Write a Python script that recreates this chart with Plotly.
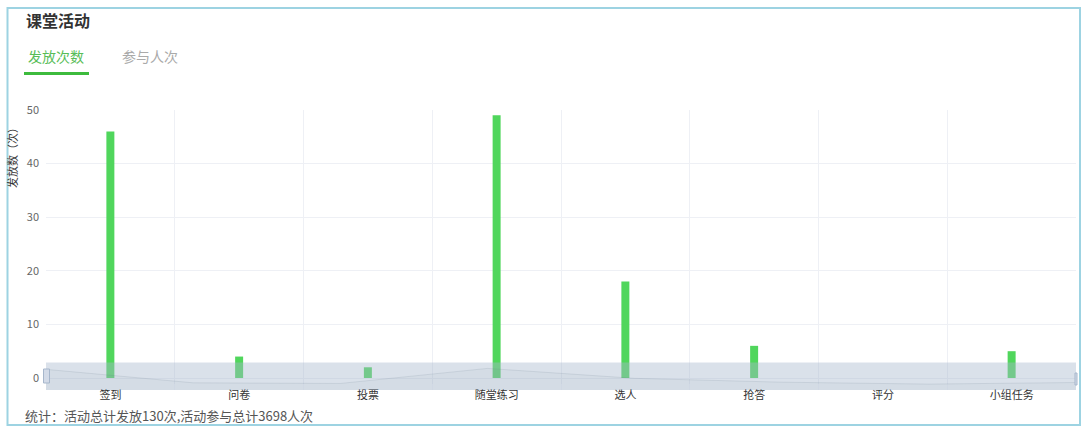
import plotly.graph_objects as go

categories = ["签到", "问卷", "投票", "随堂练习", "选人", "抢答", "评分", "小组任务"]
counts = [46, 4, 2, 49, 18, 6, 0, 5]
y_ticks = [0, 10, 20, 30, 40, 50]

W, H = 1083, 427
L, R, T, B = 46, 7, 110, 37
PW, PH = W - L - R, H - T - B
FONT = "Noto Sans CJK SC, Noto Sans, sans-serif"

def px(x):
    return (x - L) / PW

def py(y):
    return (H - B - y) / PH

Y2_MIN, Y2_MAX = -18.4, 67.4

fig = go.Figure()
fig.add_trace(go.Bar(
    x=categories, y=counts,
    marker=dict(color="#50d65c", line=dict(width=0)),
    hoverinfo="x+y", showlegend=False,
))
# slider data shadow
fig.add_trace(go.Scatter(
    x=list(range(len(counts))), y=counts, xaxis="x2", yaxis="y2",
    mode="lines", line=dict(color="rgba(47,69,84,0.14)", width=1),
    fill="tozeroy", fillcolor="rgba(47,69,84,0.05)",
    hoverinfo="skip", showlegend=False,
))

shapes = [
    # outer border
    dict(type="rect", xref="paper", yref="paper",
         x0=px(7.5), x1=px(1080), y0=py(8), y1=py(425),
         line=dict(color="#9dd3e2", width=2), fillcolor="rgba(0,0,0,0)", layer="below"),
    # tab underline
    dict(type="rect", xref="paper", yref="paper",
         x0=px(24), x1=px(89), y0=py(75), y1=py(72),
         line=dict(width=0), fillcolor="#3dbb3d"),
    # shadow bottom strip (below zero of shadow)
    dict(type="rect", xref="paper", yref="y2",
         x0=0, x1=1, y0=Y2_MIN, y1=0,
         line=dict(width=0), fillcolor="rgba(47,69,84,0.05)", layer="below"),
    # slider filler
    dict(type="rect", xref="paper", yref="paper",
         x0=0, x1=1, y0=py(390), y1=py(362.5),
         line=dict(width=0), fillcolor="rgba(167,183,204,0.42)", layer="above"),
    # left handle
    dict(type="rect", xref="paper", yref="paper",
         x0=px(43.5), x1=px(49.5), y0=py(383), y1=py(369),
         line=dict(color="#a7b7cc", width=1), fillcolor="#d3dbe8", layer="above"),
    # right handle
    dict(type="rect", xref="paper", yref="paper",
         x0=px(1075), x1=px(1077), y0=py(385), y1=py(373),
         line=dict(color="#a7b7cc", width=1), fillcolor="#d3dbe8", layer="above"),
]

annotations = [
    dict(text="<b>课堂活动</b>", xref="paper", yref="paper", x=px(24), y=py(20),
         xanchor="left", yanchor="middle", showarrow=False,
         font=dict(size=16, color="#333333", family=FONT)),
    dict(text="发放次数", xref="paper", yref="paper", x=px(26), y=py(56),
         xanchor="left", yanchor="middle", showarrow=False,
         font=dict(size=14, color="#58bd58", family=FONT)),
    dict(text="参与人次", xref="paper", yref="paper", x=px(120), y=py(56),
         xanchor="left", yanchor="middle", showarrow=False,
         font=dict(size=14, color="#aaaaaa", family=FONT)),
    dict(text="发放数（次）", xref="paper", yref="paper", x=px(12), y=py(155),
         xanchor="center", yanchor="middle", showarrow=False, textangle=-90,
         font=dict(size=11, color="#333333", family=FONT)),
    dict(text="统计：活动总计发放130次,活动参与总计3698人次", xref="paper", yref="paper",
         x=px(23), y=py(415), xanchor="left", yanchor="middle", showarrow=False,
         font=dict(size=13, color="#555555", family=FONT)),
]

fig.update_layout(
    width=W, height=H,
    margin=dict(l=L, r=R, t=T, b=B, pad=0),
    paper_bgcolor="white", plot_bgcolor="rgba(0,0,0,0)",
    font=dict(family=FONT, size=11, color="#555555"),
    bargap=0.938,
    shapes=shapes, annotations=annotations,
    xaxis=dict(type="category", tickson="boundaries", showgrid=True,
               gridcolor="#eef0f5", gridwidth=1, ticks="", showline=False,
               tickfont=dict(size=11, color="#333333"), ticklabelstandoff=-3,
               range=[-0.5, len(categories) - 0.5], fixedrange=True),
    yaxis=dict(range=[-2.239, 50], tickvals=y_ticks, showgrid=True,
               gridcolor="#eef0f5", zeroline=False, showline=False, ticks="",
               tickfont=dict(size=11, color="#666666"), ticklabelstandoff=6,
               fixedrange=True),
    xaxis2=dict(overlaying="x", anchor="y2", range=[0, len(counts) - 1],
                visible=False, domain=[0, 1], fixedrange=True),
    yaxis2=dict(domain=[0, (390 - 362.5) / PH], anchor="x2", range=[Y2_MIN, Y2_MAX],
                visible=False, fixedrange=True),
)

fig.write_html("out.html")
